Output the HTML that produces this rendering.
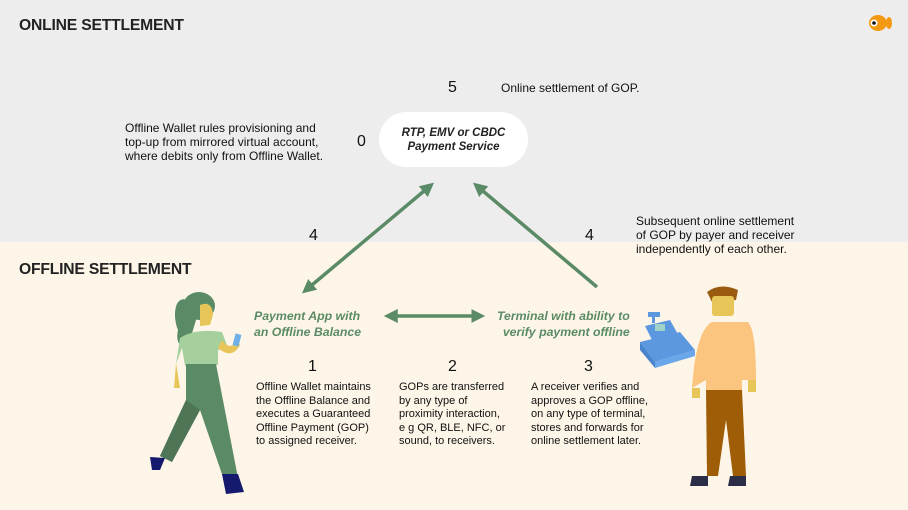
<!DOCTYPE html>
<html><head><meta charset="utf-8"><style>
*{margin:0;padding:0;box-sizing:border-box}
body{width:908px;height:510px;position:relative;overflow:hidden;font-family:"Liberation Sans",sans-serif;background:#fdf6e8;color:#111}
.top{position:absolute;left:0;top:0;width:908px;height:242px;background:#ededed}
.t{position:absolute;white-space:nowrap}
.h{font-weight:bold;font-size:15.7px;color:#222;letter-spacing:-0.2px}
.p{font-size:11px;line-height:13.5px}
.q{font-size:12px;line-height:14px}
.n{font-size:16px}
.g{font-style:italic;font-weight:bold;font-size:12.3px;line-height:16px;color:#5b8a66}
</style></head><body>
<div class="top"></div>
<div class="t h" style="left:19px;top:17px">ONLINE SETTLEMENT</div>
<div class="t h" style="left:19px;top:261px">OFFLINE SETTLEMENT</div>
<div class="t n" style="left:448px;top:79px">5</div>
<div class="t q" style="left:501px;top:81px">Online settlement of GOP.</div>
<div class="t n" style="left:357px;top:133px">0</div>
<div class="t q" style="left:125px;top:121px">Offline Wallet rules provisioning and<br>top-up from mirrored virtual account,<br>where debits only from Offline Wallet.</div>
<div style="position:absolute;left:379px;top:112px;width:149px;height:55px;border-radius:28px;background:#fff"></div>
<div class="t" style="left:379px;top:126px;width:149px;text-align:center;font-style:italic;font-weight:bold;font-size:11.5px;line-height:14px;color:#222">RTP, EMV or CBDC<br>Payment Service</div>
<div class="t n" style="left:309px;top:227px">4</div>
<div class="t n" style="left:585px;top:227px">4</div>
<div class="t q" style="left:636px;top:214px">Subsequent online settlement<br>of GOP by payer and receiver<br>independently of each other.</div>
<div class="t g" style="left:254px;top:308px">Payment App with<br>an Offline Balance</div>
<div class="t g" style="left:496px;top:308px;text-align:right">Terminal with ability to<br>&nbsp;&nbsp;verify payment offline</div>
<div class="t n" style="left:308px;top:358px">1</div>
<div class="t n" style="left:448px;top:358px">2</div>
<div class="t n" style="left:584px;top:358px">3</div>
<div class="t p" style="left:256px;top:381px">Offline Wallet maintains<br>the Offline Balance and<br>executes a Guaranteed<br>Offline Payment (GOP)<br>to assigned receiver.</div>
<div class="t p" style="left:399px;top:381px">GOPs are transferred<br>by any type of<br>proximity interaction,<br>e g QR, BLE, NFC, or<br>sound, to receivers.</div>
<div class="t p" style="left:531px;top:381px">A receiver verifies and<br>approves a GOP offline,<br>on any type of terminal,<br>stores and forwards for<br>online settlement later.</div>
<svg width="908" height="510" style="position:absolute;left:0;top:0">
<defs><marker id="a" markerWidth="4" markerHeight="4" refX="2.5" refY="2" orient="auto-start-reverse"><path d="M0,0L4,2L0,4z" fill="#5b8a66"/></marker></defs>
<g stroke="#5b8a66" stroke-width="3.5" fill="none">
<line x1="306" y1="290" x2="430" y2="186" marker-start="url(#a)" marker-end="url(#a)"/>
<line x1="597" y1="287" x2="477" y2="186" marker-end="url(#a)"/>
<line x1="389" y1="316" x2="480" y2="316" marker-start="url(#a)" marker-end="url(#a)"/>
</g>
<!-- fish -->
<ellipse cx="878" cy="23" rx="9" ry="8" fill="#f39a12"/><ellipse cx="889" cy="23" rx="3" ry="6" fill="#f39a12"/>
<circle cx="874" cy="23" r="3.5" fill="#fff"/><circle cx="874" cy="23" r="1.8" fill="#111"/>
<!-- woman -->
<path d="M187 300 C175 295 172 315 178 330 C175 345 182 350 190 340 L196 320 Z" fill="#5b8a66"/>
<ellipse cx="199" cy="306" rx="16" ry="14" fill="#5b8a66"/>
<path d="M200 305 Q212 300 213 315 L210 325 L200 326 Z" fill="#e8c558"/>
<path d="M180 338 Q195 328 222 332 L228 348 L218 350 L218 365 L185 366 L182 348 L176 364 Z" fill="#a5cf9d"/>
<path d="M176 363 L174 388 L180 388 Z" fill="#e8c558"/>
<path d="M218 348 Q232 360 240 345 L238 340 Q230 352 222 340 Z" fill="#e8c558"/>
<rect x="234" y="334" width="6" height="12" fill="#6fb0e8" transform="rotate(15 237 340)"/>
<path d="M186 364 L216 364 L238 478 L224 480 L200 410 L172 462 L160 456 L186 400 Z" fill="#5b8a66"/>
<path d="M186 400 L200 410 L172 462 L160 456 Z" fill="#4e7555"/>
<path d="M150 457 L165 458 L160 470 L152 470 Z" fill="#161a6e"/>
<path d="M222 474 L238 474 L244 492 L226 494 Z" fill="#161a6e"/>
<!-- register -->
<rect x="648" y="312" width="12" height="5" fill="#5b98e0"/>
<rect x="652" y="317" width="3" height="6" fill="#5b98e0"/>
<path d="M645 326 L670 320 L680 338 L655 346 Z" fill="#5b98e0"/>
<rect x="655" y="324" width="10" height="7" fill="#9fd3c8"/>
<path d="M640 342 L680 332 L695 350 L655 362 Z" fill="#5b98e0"/>
<path d="M640 342 L655 362 L655 368 L640 350 Z" fill="#4a85cc"/>
<path d="M655 362 L695 350 L695 356 L655 368 Z" fill="#6aa6ea"/>
<!-- man -->
<path d="M707 292 Q720 282 738 290 L736 300 L712 302 Z" fill="#9a5a10"/>
<rect x="712" y="296" width="22" height="20" rx="3" fill="#e8c558"/>
<path d="M712 322 L748 322 Q756 330 756 380 L742 380 L742 390 L706 390 L706 380 L692 388 Q696 330 712 322 Z" fill="#fcc57f"/>
<path d="M706 390 L742 390 L746 476 L733 476 L726 420 L718 476 L707 476 Z" fill="#a05d08"/>
<path d="M692 388 L700 388 L700 398 L692 398 Z" fill="#e8c558"/><path d="M748 380 L756 380 L756 392 L748 392 Z" fill="#e8c558"/>
<path d="M692 476 L708 476 L708 486 L690 486 Z" fill="#2c2e48"/><path d="M730 476 L746 476 L746 486 L728 486 Z" fill="#2c2e48"/>
</svg>
</body></html>
